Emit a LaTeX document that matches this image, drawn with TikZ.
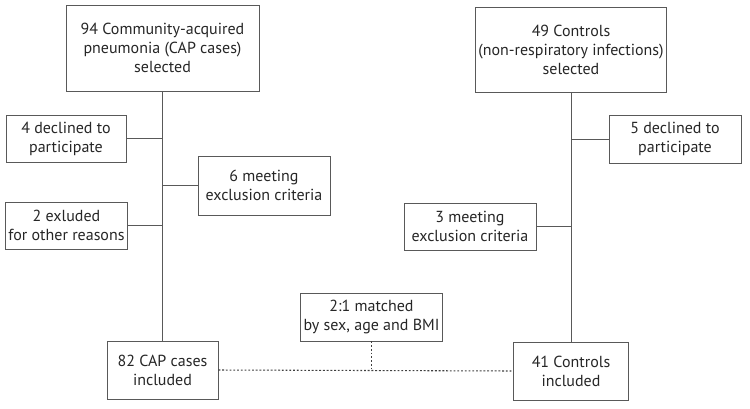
\documentclass[tikz,border=0pt]{standalone}
\usepackage{fontspec}
\setmainfont{PT Sans}
\usepackage{xcolor}
\usetikzlibrary{positioning, calc}
\tikzset{
  box/.style  = {rectangle, draw=black!65, line width=0.6pt, align=center,
                 text=black!85, inner sep=2pt,
                 font=\fontsize{12}{14.25}\selectfont},
  link/.style = {draw=black!65, line width=0.6pt},
  match/.style= {draw=black!75, line width=0.8pt, dash pattern=on 1.4pt off 1.4pt}
}

\begin{document}
\begin{tikzpicture}[x=0.75pt, y=-0.75pt]
  \useasboundingbox (0,0) rectangle (750,408);
  % cases
  \node[box, minimum width=144.75pt, minimum height=64.5pt] (capsel) at (162.5,48)
    {94 Community-acquired\\pneumonia (CAP cases)\\selected};
  \node[box, minimum width=90pt, minimum height=35.25pt] (decl4) at (66,138.5)
    {4 declined to\\participate};
  \node[box, minimum width=99pt, minimum height=44.25pt] (excl6) at (264,185.5)
    {6 meeting\\exclusion criteria};
  \node[box, minimum width=90.75pt, minimum height=35.25pt] (oth2) at (66.5,225.5)
    {2 exluded\\for other reasons};
  \node[box, minimum width=83.25pt, minimum height=43.5pt] (cap82) at (162.5,370)
    {82 CAP cases\\included};
  % controls
  \node[box, minimum width=140.25pt, minimum height=63.75pt] (ctrlsel) at (571,49.5)
    {49 Controls\\(non-respiratory infections)\\selected};
  \node[box, minimum width=99pt, minimum height=36pt] (decl5) at (675,139)
    {5 declined to\\participate};
  \node[box, minimum width=99pt, minimum height=35.25pt] (excl3) at (470,226.5)
    {3 meeting\\exclusion criteria};
  \node[box, minimum width=86.25pt, minimum height=43.5pt] (ctrl41) at (571,371)
    {41 Controls\\included};
  % matching
  \node[box, minimum width=105.75pt, minimum height=36pt] (match) at (371.5,317)
    {2:1 matched\\by sex, age and BMI};

  \draw[link] (capsel.south) -- (cap82.north);
  \draw[link] (decl4.east) -- (decl4.east -| capsel.south);
  \draw[link] (excl6.west) -- (excl6.west -| capsel.south);
  \draw[link] (oth2.east) -- (oth2.east -| capsel.south);
  \draw[link] (ctrlsel.south) -- (ctrl41.north);
  \draw[link] (decl5.west) -- (decl5.west -| ctrlsel.south);
  \draw[link] (excl3.east) -- (excl3.east -| ctrlsel.south);
  \draw[match] (cap82.east) -- (ctrl41.west);
  \draw[match] (match.south) -- (match.south |- cap82.east);
\end{tikzpicture}
\end{document}
